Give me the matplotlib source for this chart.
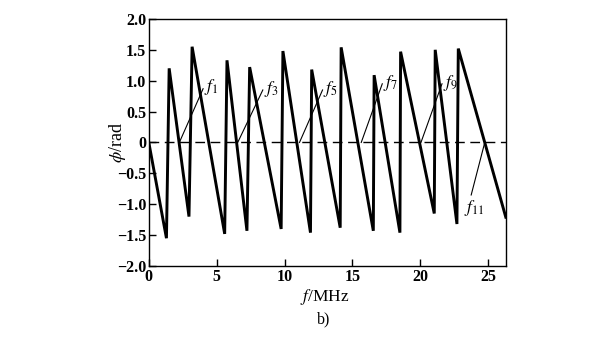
import matplotlib
matplotlib.use('Agg')
import matplotlib.pyplot as plt

# phase response (sawtooth), vertices
freq = [0, 1.3, 1.5, 2.96, 3.19, 5.59, 5.76, 7.23, 7.43, 9.75, 9.88, 11.91,
        12.0, 14.1, 14.17, 16.54, 16.6, 18.5, 18.55, 21.03, 21.1, 22.7, 22.8, 26.3]
phase = [0, -1.55, 1.2, -1.2, 1.55, -1.48, 1.33, -1.43, 1.22, -1.40, 1.48, -1.46,
         1.18, -1.38, 1.54, -1.43, 1.09, -1.46, 1.47, -1.15, 1.50, -1.32, 1.52, -1.21]

# leader lines from zero crossings to labels
labels = ['$f_1$', '$f_3$', '$f_5$', '$f_7$', '$f_9$', '$f_{11}$']
lead_x0 = [2.25, 6.55, 11.1, 15.65, 20.05, 24.75]
lead_x1 = [4.0, 8.4, 12.8, 17.2, 21.6, 23.75]
lead_y1 = [0.87, 0.85, 0.85, 0.95, 0.95, -0.85]

xticks = [0, 5, 10, 15, 20, 25]
yticks = [-2.0, -1.5, -1.0, -0.5, 0, 0.5, 1.0, 1.5, 2.0]
ytick_labels = ['\u22122.0', '\u22121.5', '\u22121.0', '\u22120.5', '0', '0.5', '1.0', '1.5', '2.0']

plt.rcParams['font.family'] = ['Liberation Serif', 'DejaVu Serif']
plt.rcParams['mathtext.fontset'] = 'stix'

fig = plt.figure(figsize=(6, 3.38), dpi=100)
ax = fig.add_axes([0.248, 0.213, 0.595, 0.731])

ax.plot(freq, phase, color='black', lw=2.1, solid_joinstyle='miter')
ax.axhline(0, color='black', lw=1.0, ls=(0, (7, 4)))

for lab, x0, x1, y1 in zip(labels, lead_x0, lead_x1, lead_y1):
    ax.plot([x0, x1], [0, y1], color='black', lw=0.8)
    if y1 > 0:
        ax.text(x1 + 0.05, y1 + 0.02, lab, fontsize=12.5, ha='left', va='center')
    else:
        ax.text(x1 + 0.25, y1 - 0.05, lab, fontsize=12.5, ha='center', va='top')

ax.set_xlim(0, 26.3)
ax.set_ylim(-2.0, 2.0)
ax.set_xticks(xticks)
ax.set_xticklabels([str(t) for t in xticks], fontweight='bold')
ax.set_yticks(yticks)
ax.set_yticklabels(ytick_labels, fontweight='bold')
ax.tick_params(direction='in', length=5, width=1, labelsize=11.5, pad=2)
for s in ax.spines.values():
    s.set_linewidth(1.0)

fig.text(118 / 600, 1 - 142 / 338, r'$\phi$/rad', fontsize=13, rotation=90,
         ha='center', va='center')
fig.text(325 / 600, 1 - 297 / 338, r'$f$/MHz', fontsize=12.5, ha='center', va='center')
fig.text(324 / 600, 1 - 319 / 338, 'b)', fontsize=11.5, ha='center', va='center')

fig.savefig('out.png', dpi=100)
